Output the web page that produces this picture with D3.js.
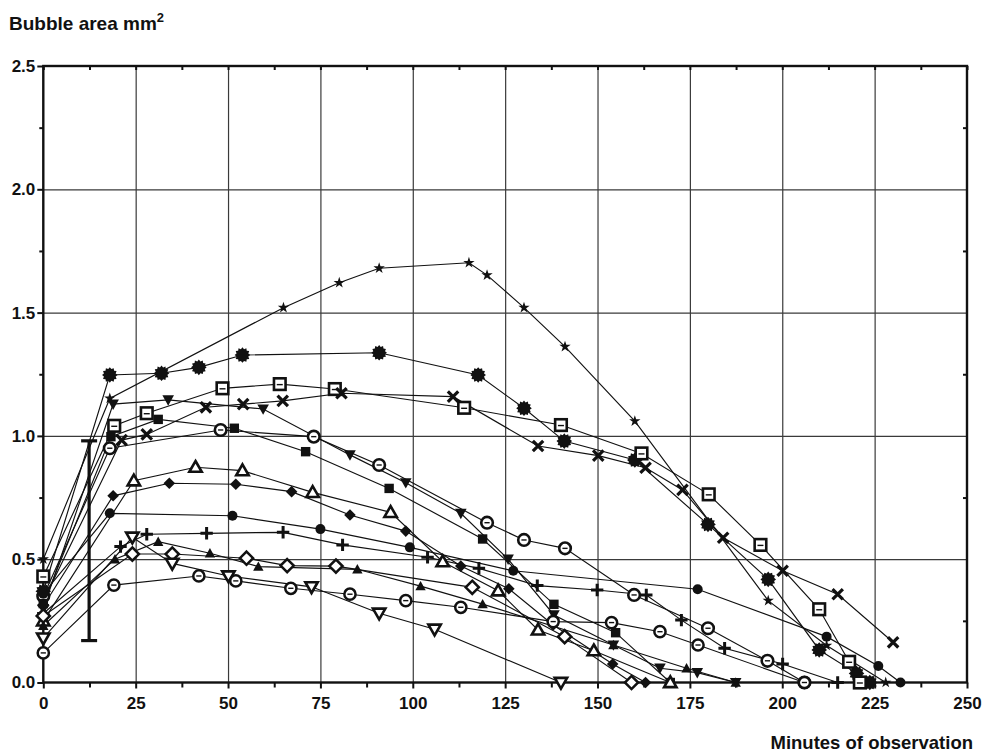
<!DOCTYPE html>
<html><head><meta charset="utf-8">
<script src="https://cdn.jsdelivr.net/npm/d3@7"></script>
<style>
html,body{margin:0;padding:0;background:#fff;}
svg{display:block;}
text{font-family:"Liberation Sans",Arial,sans-serif;font-weight:bold;fill:#111;}
</style></head>
<body><svg id="chart" width="982" height="753"></svg>
<script>
// ---- data (minutes, bubble area mm^2) ----
const xTicks = [0,25,50,75,100,125,150,175,200,225,250];
const yTicks = [0.0,0.5,1.0,1.5,2.0,2.5];
const errorBar = {x:12.4, low:0.17, high:0.98};

const sStar    = [[0,0.50],[18,1.152],[65,1.52],[80.1,1.621],[90.9,1.68],[115.2,1.702],[120.1,1.652],[130.1,1.52],[141.2,1.362],[160.1,1.06],[196.2,0.332],[212,0.15],[228,0]];
const sBurst   = [[0,0.37],[18,1.247],[32,1.254],[42.1,1.278],[53.9,1.328],[90.9,1.337],[117.7,1.247],[130.1,1.112],[141,0.979],[160.1,0.902],[179.9,0.641],[196.2,0.418],[210,0.132],[220.1,0.037],[223.7,0]];
const sSqBar   = [[0,0.43],[19.2,1.041],[28,1.092],[48.5,1.193],[64,1.21],[78.9,1.19],[113.9,1.114],[140.1,1.044],[161.9,0.929],[180.1,0.763],[194.1,0.558],[210,0.297],[218.1,0.084],[221,0]];
const sCross   = [[0,0.33],[21.2,0.983],[28,1.006],[44,1.116],[54.1,1.129],[64.8,1.142],[80.7,1.173],[110.9,1.159],[133.9,0.959],[150.2,0.92],[163,0.871],[173,0.781],[184,0.587],[200.1,0.453],[215,0.358],[230,0.163]];
const sTriDown = [[0,0.30],[18.9,1.129],[33.8,1.146],[59.5,1.109],[83,0.923],[98.1,0.81],[113,0.686],[125.8,0.5],[138.2,0.274],[154.3,0.152],[166.9,0.058],[177,0.04],[187.4,0]];
const sCircBig = [[0,0.35],[18,0.95],[48,1.024],[73.2,0.997],[90.9,0.882],[120.1,0.648],[130.1,0.578],[141.2,0.544],[159.9,0.355],[179.9,0.22],[196,0.088],[206,0]];
const sSquare  = [[0,0.32],[18.3,0.997],[31.1,1.067],[51.7,1.031],[71,0.936],[93.6,0.787],[118.9,0.582],[138.2,0.317],[154.9,0.202],[169.7,0]];
const sTriOpen = [[0,0.25],[24.5,0.818],[41.2,0.873],[53.9,0.859],[72.9,0.771],[94,0.69],[108.1,0.49],[123.1,0.372],[133.9,0.213],[149,0.129],[169.7,0]];
const sDiamond = [[0,0.31],[18.9,0.757],[34.1,0.808],[52.1,0.804],[67.2,0.774],[83,0.679],[98.1,0.614],[113,0.472],[126,0.38],[138,0.233],[154.1,0.075],[163,0]];
const sDot     = [[0,0.36],[18,0.686],[51.2,0.676],[75,0.622],[99.2,0.548],[127.2,0.453],[177.1,0.378],[212,0.186],[226,0.067],[232,0]];
const sPlus    = [[0,0.28],[20.9,0.551],[28,0.601],[44.2,0.605],[64.9,0.609],[81,0.558],[104,0.508],[117.9,0.463],[133.7,0.393],[149.9,0.375],[163.2,0.355],[172.7,0.253],[184.4,0.139],[200.1,0.075],[215,0]];
const sTriUp   = [[0,0.23],[19.4,0.50],[31.1,0.571],[45.1,0.524],[58.2,0.47],[85,0.459],[102.1,0.391],[118.9,0.318],[154.3,0.152],[174.1,0.058],[187.4,0]];
const sDiaOpen = [[0,0.27],[24.1,0.521],[34.9,0.521],[55,0.504],[66,0.474],[79.2,0.472],[116.1,0.386],[141.1,0.186],[159.2,0]];
const sTriDnOp = [[0,0.18],[24.1,0.589],[34.9,0.483],[50.1,0.432],[72.6,0.388],[90.9,0.281],[105.9,0.216],[140.1,0]];
const sCircSm  = [[0,0.12],[19.1,0.395],[42.1,0.432],[52.1,0.412],[67,0.382],[83,0.358],[98.1,0.332],[113,0.305],[138,0.247],[153.8,0.243],[166.9,0.206],[177.2,0.152],[206,0]];

const seriesList = [
  {data:sStar, marker:"star"}, {data:sBurst, marker:"burst"}, {data:sSqBar, marker:"sqbar"},
  {data:sCross, marker:"cross"}, {data:sTriDown, marker:"tridown"}, {data:sCircBig, marker:"circbar"},
  {data:sSquare, marker:"square"}, {data:sTriOpen, marker:"triopen"}, {data:sDiamond, marker:"diamond"},
  {data:sDot, marker:"dot"}, {data:sPlus, marker:"plus"}, {data:sTriUp, marker:"triup"},
  {data:sDiaOpen, marker:"diaopen"}, {data:sTriDnOp, marker:"tridnopen"}, {data:sCircSm, marker:"circsm"}
];

// ---- layout ----
const svg = d3.select("#chart");
const x = d3.scaleLinear().domain([0,250]).range([43.3,967]);
const y = d3.scaleLinear().domain([0,2.5]).range([682.5,66]);
const L = x(0), R = x(250), T = y(2.5), B = y(0);
const FONT = "'Liberation Sans', Arial, sans-serif";
function styleText(g,size){
  g.attr("font-family",null).attr("font-size",null);
  g.selectAll("text")
   .style("font-size",size+"px").style("font-weight","bold").style("font-family",FONT).attr("fill","#111");
}

// gridlines
svg.append("g").attr("transform",`translate(0,${B})`)
  .call(d3.axisBottom(x).tickValues(xTicks.slice(1,-1)).tickSize(-(B-T)).tickFormat(""))
  .call(g=>g.select(".domain").remove())
  .call(g=>g.selectAll("line").attr("stroke","#3a3a3a").attr("stroke-width",1.2));
svg.append("g").attr("transform",`translate(${L},0)`)
  .call(d3.axisLeft(y).tickValues(yTicks.slice(1,-1)).tickSize(-(R-L)).tickFormat(""))
  .call(g=>g.select(".domain").remove())
  .call(g=>g.selectAll("line").attr("stroke","#3a3a3a").attr("stroke-width",1.2));

// minor ticks
const xMinor = d3.range(12.5,250,25);
const yMinor = d3.range(0.25,2.5,0.5);
// bottom: outside
svg.append("g").attr("transform",`translate(0,${B})`)
  .call(d3.axisBottom(x).tickValues(xTicks).tickSize(6).tickPadding(8).tickFormat(d=>d))
  .call(g=>g.select(".domain").remove())
  .call(g=>g.selectAll("line").attr("stroke","#111").attr("stroke-width",2))
  .call(g=>styleText(g,17));
svg.append("g").attr("transform",`translate(0,${B})`)
  .call(d3.axisBottom(x).tickValues(xMinor).tickSize(5).tickFormat(""))
  .call(g=>g.select(".domain").remove())
  .call(g=>g.selectAll("line").attr("stroke","#111").attr("stroke-width",2));
// top: inside
svg.append("g").attr("transform",`translate(0,${T})`)
  .call(d3.axisBottom(x).tickValues(xTicks.concat(xMinor)).tickSize(4).tickFormat(""))
  .call(g=>g.select(".domain").remove())
  .call(g=>g.selectAll("line").attr("stroke","#111").attr("stroke-width",2));
// left: outside
svg.append("g").attr("transform",`translate(${L},0)`)
  .call(d3.axisLeft(y).tickValues(yTicks).tickSize(6).tickPadding(2).tickFormat(d3.format(".1f")))
  .call(g=>g.select(".domain").remove())
  .call(g=>g.selectAll("line").attr("stroke","#111").attr("stroke-width",2))
  .call(g=>styleText(g,17));
svg.append("g").attr("transform",`translate(${L},0)`)
  .call(d3.axisLeft(y).tickValues(yMinor).tickSize(4).tickFormat(""))
  .call(g=>g.select(".domain").remove())
  .call(g=>g.selectAll("line").attr("stroke","#111").attr("stroke-width",2));
// right: inside
svg.append("g").attr("transform",`translate(${R},0)`)
  .call(d3.axisLeft(y).tickValues(yMinor).tickSize(4).tickFormat(""))
  .call(g=>g.select(".domain").remove())
  .call(g=>g.selectAll("line").attr("stroke","#111").attr("stroke-width",2));

// frame
svg.append("rect").attr("x",L).attr("y",T).attr("width",R-L).attr("height",B-T)
  .attr("fill","none").attr("stroke","#111").attr("stroke-width",2.4);

// error bar
const eb = svg.append("g").attr("stroke","#111").attr("stroke-width",3.2);
eb.append("line").attr("x1",x(errorBar.x)).attr("x2",x(errorBar.x)).attr("y1",y(errorBar.low)).attr("y2",y(errorBar.high));
eb.append("line").attr("x1",x(errorBar.x)-8).attr("x2",x(errorBar.x)+8).attr("y1",y(errorBar.low)).attr("y2",y(errorBar.low));
eb.append("line").attr("x1",x(errorBar.x)-8).attr("x2",x(errorBar.x)+8).attr("y1",y(errorBar.high)).attr("y2",y(errorBar.high));

// lines
const line = d3.line().x(d=>x(d[0])).y(d=>y(d[1]));
const lg = svg.append("g");
seriesList.forEach(s=>{
  lg.append("path").attr("d",line(s.data)).attr("fill","none").attr("stroke","#111").attr("stroke-width",1.15);
});

// markers
function burstPath(r){
  const pts=[]; const n=12;
  for(let i=0;i<n*2;i++){const a=Math.PI*i/n; const rr=i%2?r*0.78:r; pts.push([rr*Math.sin(a),-rr*Math.cos(a)]);}
  return "M"+pts.map(p=>p.join(",")).join("L")+"Z";
}
function drawMarker(g,type,cx,cy){
  const m=g.append("g").attr("transform",`translate(${cx},${cy})`);
  const blk="#111";
  switch(type){
    case "star": m.append("path").attr("d",d3.symbol(d3.symbolStar,40)()).attr("fill",blk); break;
    case "burst": m.append("path").attr("d",burstPath(7.8)).attr("fill",blk); break;
    case "sqbar":
      m.append("rect").attr("x",-5.8).attr("y",-5.8).attr("width",11.6).attr("height",11.6).attr("fill","#fff").attr("stroke",blk).attr("stroke-width",2.6);
      m.append("line").attr("x1",-3).attr("x2",3).attr("y1",0.5).attr("y2",0.5).attr("stroke",blk).attr("stroke-width",1.4); break;
    case "cross":
      m.append("path").attr("d","M-5.2,-5.2L5.2,5.2M-5.2,5.2L5.2,-5.2").attr("stroke",blk).attr("stroke-width",3.2); break;
    case "tridown": m.append("path").attr("d","M-5.8,-4.6L5.8,-4.6L0,5.8Z").attr("fill",blk); break;
    case "circbar":
      m.append("circle").attr("r",5.8).attr("fill","#fff").attr("stroke",blk).attr("stroke-width",2.6);
      m.append("line").attr("x1",-2.6).attr("x2",2.6).attr("stroke",blk).attr("stroke-width",1.4); break;
    case "circsm":
      m.append("circle").attr("r",5.6).attr("fill","#fff").attr("stroke",blk).attr("stroke-width",2.5);
      m.append("line").attr("x1",-2.6).attr("x2",2.6).attr("stroke",blk).attr("stroke-width",1.4); break;
    case "square": m.append("rect").attr("x",-4.7).attr("y",-4.7).attr("width",9.4).attr("height",9.4).attr("fill",blk); break;
    case "triopen": m.append("path").attr("d","M0,-6.2L6.2,4.6L-6.2,4.6Z").attr("fill","#fff").attr("stroke",blk).attr("stroke-width",2.6); break;
    case "diamond": m.append("path").attr("d","M0,-5.8L5.8,0L0,5.8L-5.8,0Z").attr("fill",blk); break;
    case "dot": m.append("circle").attr("r",5).attr("fill",blk); break;
    case "plus": m.append("path").attr("d","M-6.2,0L6.2,0M0,-6.2L0,6.2").attr("stroke",blk).attr("stroke-width",3); break;
    case "triup": m.append("path").attr("d","M0,-5.2L5.2,4.2L-5.2,4.2Z").attr("fill",blk); break;
    case "diaopen": m.append("path").attr("d","M0,-6.6L6.6,0L0,6.6L-6.6,0Z").attr("fill","#fff").attr("stroke",blk).attr("stroke-width",2.5); break;
    case "tridnopen": m.append("path").attr("d","M-6.2,-4.6L6.2,-4.6L0,6.2Z").attr("fill","#fff").attr("stroke",blk).attr("stroke-width",2.6); break;
  }
}
const mg = svg.append("g");
seriesList.forEach(s=>{ s.data.forEach(d=>drawMarker(mg,s.marker,x(d[0]),y(d[1]))); });

// titles
const t1 = svg.append("text").attr("x",9).attr("y",30).style("font-size","19px");
t1.append("tspan").text("Bubble area mm");
t1.append("tspan").attr("dy",-8).style("font-size","13px").text("2");
svg.append("text").attr("x",973).attr("y",749).attr("text-anchor","end").style("font-size","18.5px").text("Minutes of observation");
</script></body></html>
